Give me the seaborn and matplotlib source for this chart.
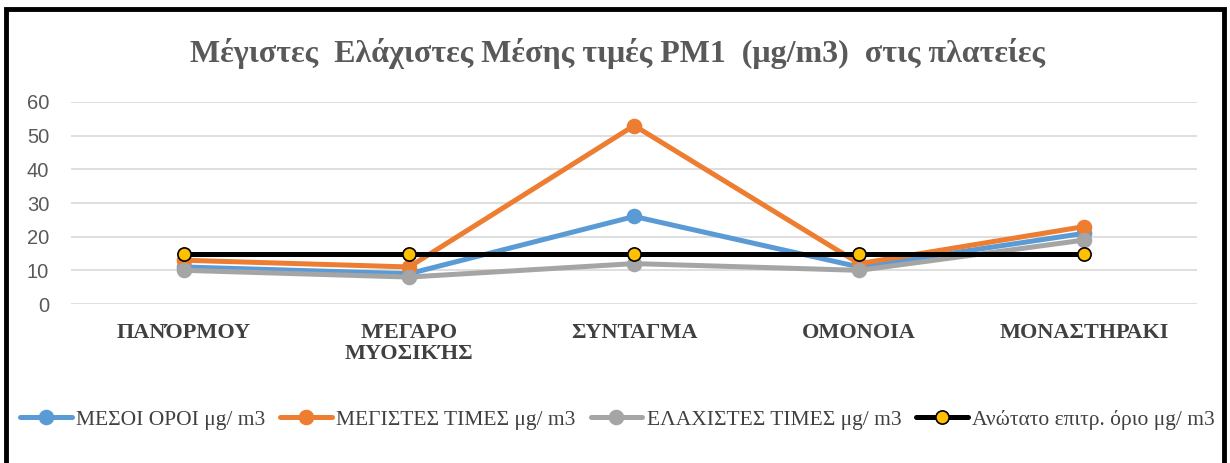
import matplotlib
matplotlib.use("Agg")
import matplotlib.pyplot as plt
import seaborn as sns
import numpy as np
from matplotlib.patches import Rectangle

categories = ["ΠΑΝΌΡΜΟΥ", "ΜΈΓΑΡΟ\nΜΥΟΣΙΚΉΣ", "ΣΥΝΤΑΓΜΑ", "ΟΜΟΝΟΙΑ", "ΜΟΝΑΣΤΗΡΑΚΙ"]
mean_vals = [11, 9, 26, 11, 21]
max_vals = [13, 11, 53, 12, 23]
min_vals = [10, 8, 12, 10, 19]
limit_vals = [15, 15, 15, 15, 15]
series_names = ["ΜΕΣΟΙ ΟΡΟΙ μg/ m3", "ΜΕΓΙΣΤΕΣ ΤΙΜΕΣ μg/ m3",
                "ΕΛΑΧΙΣΤΕΣ ΤΙΜΕΣ μg/ m3", "Ανώτατο επιτρ. όριο μg/ m3"]
yticks = [0, 10, 20, 30, 40, 50, 60]
title = "Μέγιστες  Ελάχιστες Μέσης τιμές PM1  (μg/m3)  στις πλατείες"

sns.set_theme(style="white")
plt.rcParams['font.family'] = ['Liberation Serif', 'DejaVu Serif']

fig = plt.figure(figsize=(12.3, 4.63), dpi=100)
ax = fig.add_axes([0.0581, 0.3434, 0.915, 0.4363])

x = np.arange(len(categories))
styles = [
    (mean_vals, "#5b9bd5", "#5b9bd5", "#5b9bd5", 10),
    (max_vals, "#ed7d31", "#ed7d31", "#ed7d31", 10),
    (min_vals, "#a5a5a5", "#a5a5a5", "#a5a5a5", 10),
    (limit_vals, "#000000", "#ffc000", "#000000", 9.5),
]
for (vals, lc, mfc, mec, ms), name in zip(styles, series_names):
    sns.lineplot(x=x, y=vals, ax=ax, color=lc, linewidth=3.6, marker="o",
                 markersize=ms, markerfacecolor=mfc, markeredgecolor=mec,
                 markeredgewidth=1.2, label=name, zorder=3)

ax.set_xlim(-0.5, len(categories) - 0.5)
ax.set_ylim(0, 60)
ax.set_yticks(yticks)
ax.set_yticklabels([str(v) for v in yticks], fontsize=14.5, color="#595959",
                   family=["Liberation Sans", "DejaVu Sans"])
ax.set_xticks(x)
ax.set_xticklabels(categories, fontsize=16, fontweight="bold", color="#404040",
                   linespacing=1.05)
ax.tick_params(axis="x", length=0, pad=14)
ax.tick_params(axis="y", length=0, pad=16)
ax.grid(axis="y", color="#d9d9d9", linewidth=1.2)
ax.grid(axis="x", visible=False)
for s in ax.spines.values():
    s.set_visible(False)
ax.set_xlabel("")
ax.set_ylabel("")

fig.text(0.502, 0.884, title, ha="center", va="center", fontsize=23,
         fontweight="bold", color="#595959")

handles, labels = ax.get_legend_handles_labels()
ax.get_legend().remove()
fig.legend(handles, labels, loc="center", bbox_to_anchor=(0.502, 0.093), ncol=4,
           frameon=False, fontsize=15.5, handlelength=2.4, handletextpad=0.2,
           columnspacing=0.7, labelcolor="#404040")

fig.patches.append(Rectangle((0.0045, -0.05), 0.991, 1.03, transform=fig.transFigure,
                             fill=False, edgecolor="black", linewidth=3.5))

fig.savefig("out.png", dpi=100, facecolor="white")
